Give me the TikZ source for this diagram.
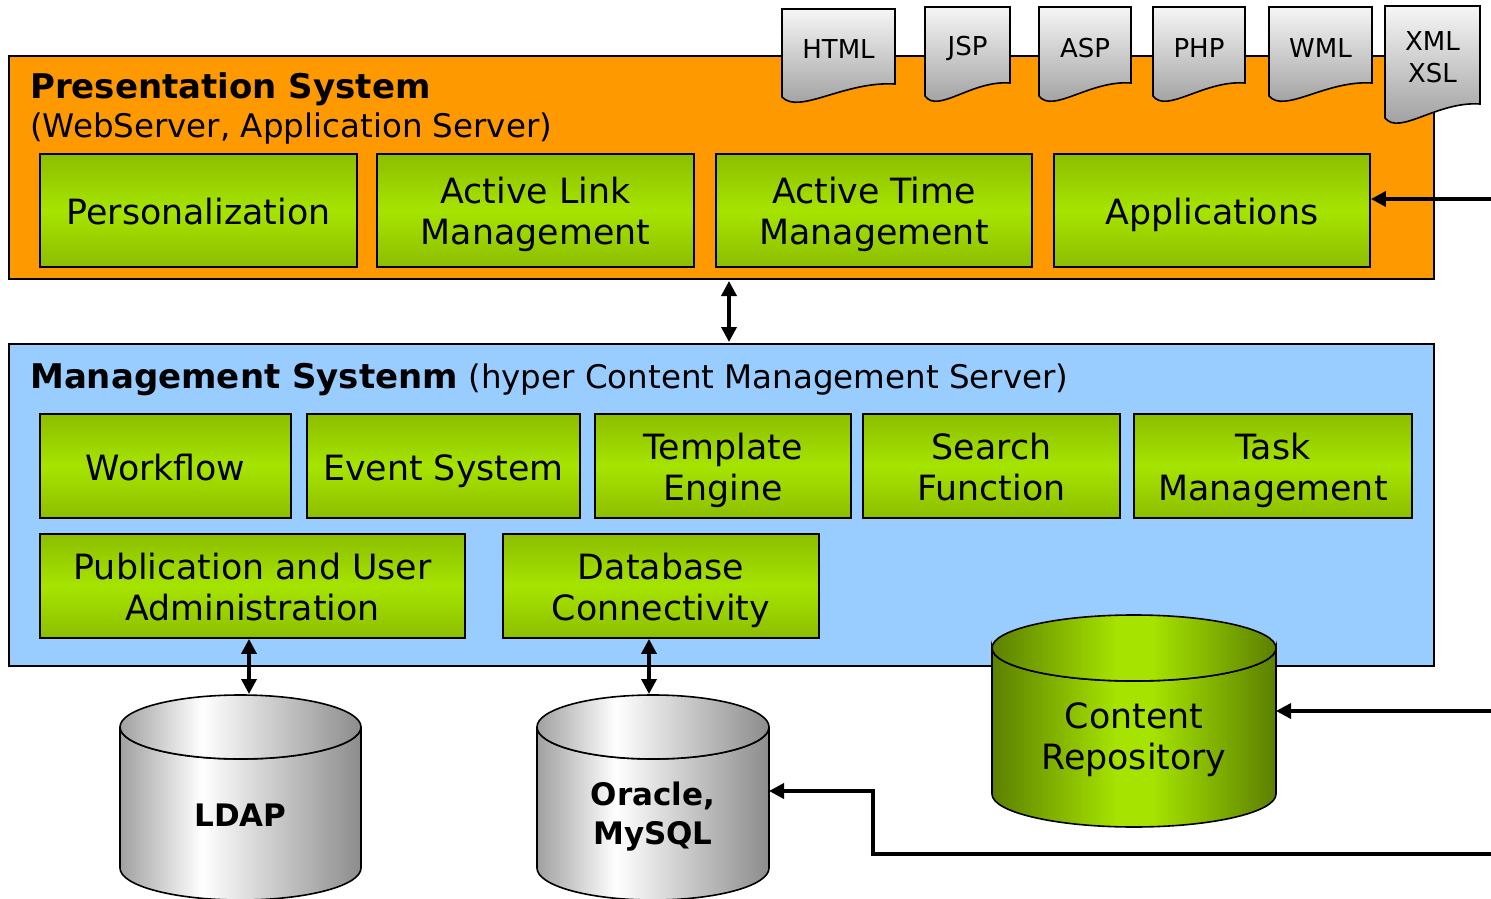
\documentclass[tikz,border=0pt]{standalone}
\usepackage{fontspec}
\setmainfont{DejaVu Sans}
\usetikzlibrary{arrows.meta}
\definecolor{orng}{HTML}{FF9900}
\definecolor{lblue}{HTML}{99CCFF}
\definecolor{gdark}{HTML}{8CBE00}
\definecolor{glight}{HTML}{A6E400}
\definecolor{cgdark}{HTML}{5C8000}
\definecolor{cglight}{HTML}{A6E400}
\definecolor{gra}{HTML}{A0A0A0}
\definecolor{grb}{HTML}{8C8C8C}
\definecolor{tagtop}{HTML}{F6F6F6}
\definecolor{tagbot}{HTML}{989898}
\pgfdeclarehorizontalshading{graycyl}{100bp}{color(0bp)=(gra); color(25bp)=(gra); color(42bp)=(white); color(75bp)=(grb); color(100bp)=(grb)}
\pgfdeclarehorizontalshading{greencyl}{100bp}{color(0bp)=(cgdark); color(25bp)=(cgdark); color(47bp)=(cglight); color(53bp)=(cglight); color(75bp)=(cgdark); color(100bp)=(cgdark)}
\newcommand\boxfont{\fontsize{34.8}{41}\selectfont}
\newcommand\titlefont{\fontsize{34}{40}\selectfont\bfseries}
\newcommand\subfont{\fontsize{32.5}{40}\selectfont}
\newcommand\tagfont{\fontsize{26}{32}\selectfont}
\newcommand\cylfont{\fontsize{31}{39}\selectfont\bfseries}
\begin{document}
\begin{tikzpicture}[x=1pt,y=-1pt,
  layer/.style={draw=black, line width=2pt, inner sep=0pt, anchor=north west},
  gbox/.style={draw=black, line width=1.8pt, top color=gdark, bottom color=gdark, middle color=glight, inner sep=0pt, align=center, font=\boxfont, text=black, text depth=0pt},
  gone/.style={gbox, text height=28pt},
  gtwo/.style={gbox, text height=68pt},
  tagtext/.style={font=\tagfont, align=center, inner sep=0pt},
  tagshape/.style={draw=black, line width=1.6pt, top color=tagtop, bottom color=tagbot},
  cylline/.style={draw=black, line width=1.6pt},
  arr/.style={line width=3.5pt, -{Triangle[length=15pt,width=15pt]}},
  darr/.style={line width=3.5pt, {Triangle[length=15pt,width=15pt]}-{Triangle[length=15pt,width=15pt]}},
  ]
\useasboundingbox (0,0) rectangle (1491,899);
\clip (0,0) rectangle (1491,899);

% layers
\node[layer, fill=orng, minimum width=1425pt, minimum height=223pt] (pres) at (8,55) {};
\node[layer, fill=lblue, minimum width=1425pt, minimum height=322pt] (mgmt) at (8,343) {};

% titles
\node[anchor=base west, inner sep=0pt, font=\titlefont] (prestitle) at (30,99) {Presentation System};
\node[anchor=base west, inner sep=0pt, font=\subfont] (pressub) at (30,137) {(WebServer, Application Server)};
\node[anchor=base west, inner sep=0pt, font=\subfont] (mgmttitle) at (30,388) {{\titlefont Management Systenm} (hyper Content Management Server)};

% presentation boxes
\node[gone, minimum width=317pt, minimum height=113pt] (pers) at (198.5,210.5) {Personalization};
\node[gtwo, minimum width=317pt, minimum height=113pt] (alm) at (535.5,210.5) {Active Link\\Management};
\node[gtwo, minimum width=316pt, minimum height=113pt] (atm) at (874,210.5) {Active Time\\Management};
\node[gone, minimum width=316pt, minimum height=113pt] (apps) at (1212,210.5) {Applications};

% management boxes
\node[gone, minimum width=251pt, minimum height=104pt] (wf) at (165.5,466) {Workflow};
\node[gone, minimum width=273pt, minimum height=104pt] (ev) at (443.5,466) {Event System};
\node[gtwo, minimum width=256pt, minimum height=104pt] (te) at (723,466) {Template\\Engine};
\node[gtwo, minimum width=257pt, minimum height=104pt] (sf) at (991.5,466) {Search\\Function};
\node[gtwo, minimum width=278pt, minimum height=104pt] (tm) at (1273,466) {Task\\Management};
\node[gtwo, minimum width=425pt, minimum height=104pt] (pub) at (252.5,586) {Publication and User\\Administration};
\node[gtwo, minimum width=316pt, minimum height=104pt] (db) at (661,586) {Database\\Connectivity};

% document tags
\foreach \xa/\xb/\yt/\yl/\yr in {782/895/9/97/84, 925/1010/7/96/83, 1039/1131/7/96/83, 1153/1245/7/96/83, 1269/1372/7/96/83, 1385/1480/6/118/104}{
  \pgfmathsetmacro\w{\xb-\xa}
  \shade[tagshape] (\xa,\yt) -- (\xb,\yt) -- (\xb,\yr)
     .. controls ({\xa+0.55*\w},{\yr-3}) and ({\xa+0.15*\w},{\yl+18}) .. (\xa,\yl) -- cycle;
}
\node[tagtext] (thtml) at (838.5,49) {HTML};
\node[tagtext] (tjsp) at (967.5,48) {JSP};
\node[tagtext] (tasp) at (1085,48) {ASP};
\node[tagtext] (tphp) at (1199,48) {PHP};
\node[tagtext] (twml) at (1320.5,48) {WML};
\node[tagtext] (txml) at (1432.5,57) {XML\\XSL};

% cylinders
% LDAP
\shade[shading=graycyl, cylline] (120,727) -- (120,868) arc[start angle=180, end angle=0, x radius=120.5, y radius=32] -- (361,727) arc[start angle=0, end angle=180, x radius=120.5, y radius=32] -- cycle;
\shade[shading=graycyl, cylline] (240.5,727) ellipse[x radius=120.5, y radius=32];
\node[font=\cylfont, inner sep=0pt] (ldap) at (240.5,815) {LDAP};
% Oracle
\shade[shading=graycyl, cylline] (537,727) -- (537,868) arc[start angle=180, end angle=0, x radius=116, y radius=32] -- (769,727) arc[start angle=0, end angle=180, x radius=116, y radius=32] -- cycle;
\shade[shading=graycyl, cylline] (653,727) ellipse[x radius=116, y radius=32];
\node[font=\cylfont, align=center, inner sep=0pt] (oracle) at (653,817) {Oracle,\\MySQL};
% Content repository
\shade[shading=greencyl, cylline] (992,648) -- (992,794) arc[start angle=180, end angle=0, x radius=142, y radius=33] -- (1276,648) arc[start angle=0, end angle=180, x radius=142, y radius=33] -- cycle;
\shade[shading=greencyl, cylline] (1134,648) ellipse[x radius=142, y radius=33];
\node[font=\boxfont, align=center, inner sep=0pt] (crepo) at (1134,740) {Content\\Repository};

% connector coordinates
\coordinate (midx) at (729,0);
\coordinate (ldaptop) at (249,694);
\coordinate (oratop) at (649,694);
\coordinate (inA) at (1491,199);
\coordinate (inC) at (1491,711);
\coordinate (crepoE) at (1276,711);
\coordinate (inO) at (1491,854);
\coordinate (bend) at (873,791);
\coordinate (oraE) at (769,791);

% connectors
\draw[darr] ([yshift=-1pt]pres.south -| midx) -- ([yshift=1pt]mgmt.north -| midx);
\draw[darr] (pub.south -| ldaptop) -- (ldaptop);
\draw[darr] (db.south -| oratop) -- (oratop);
\draw[arr] (inA) -- (inA -| apps.east);
\draw[arr] (inC) -- (crepoE);
\draw[arr, line join=miter] (inO) -- (inO -| bend) -- (bend) -- (oraE);
\end{tikzpicture}
\end{document}
